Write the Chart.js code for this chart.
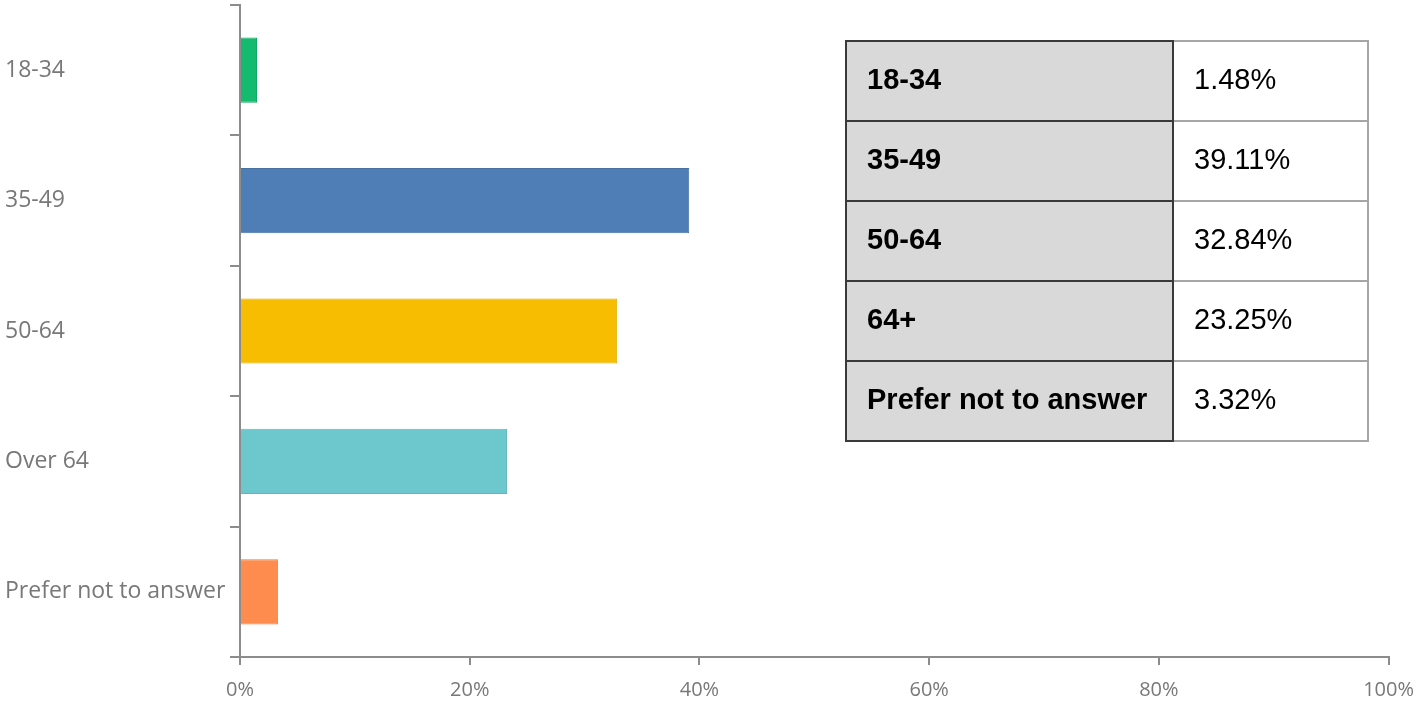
<!DOCTYPE html>
<html>
<head>
<meta charset="utf-8">
<script src="https://cdn.jsdelivr.net/npm/chart.js@4/dist/chart.umd.min.js"></script>
<style>
    html, body { margin: 0; padding: 0; background: #fff; }
    #wrap { position: relative; width: 1427px; height: 703px; }
    #summary {
        position: absolute; left: 845px; top: 40px;
        border-collapse: collapse;
        font-family: "Liberation Sans", Arial, sans-serif;
        font-size: 29px; color: #000;
    }
    #summary td { height: 74px; padding: 0 0 4px 20px; }
    #summary td.lbl {
        width: 305px; background: #d9d9d9; font-weight: bold;
        border: 2px solid #3a3a3a;
    }
    #summary td.val {
        width: 173px; background: #fff;
        border: 2px solid #a6a6a6; border-left: 2px solid #3a3a3a;
    }
</style>
</head>
<body>
<div id="wrap">
    <canvas id="ageChart"></canvas>
    <table id="summary"></table>
</div>
<script>
    const categories = ['18-34', '35-49', '50-64', 'Over 64', 'Prefer not to answer'];
    const tableLabels = ['18-34', '35-49', '50-64', '64+', 'Prefer not to answer'];
    const shares = [1.48, 39.11, 32.84, 23.25, 3.32];
    const barColors = ['#14bb6f', '#4f7db5', '#f7bd00', '#6cc8cc', '#ff8c4f'];
    const barBorders = ['#10a862', '#4770a3', '#e0ac00', '#62b6ba', '#e87f48'];
    const xTicks = [0, 20, 40, 60, 80, 100];

    const axisGrey = '#8c8c8c';
    const labelGrey = '#787878';

    // side table
    const table = document.getElementById('summary');
    tableLabels.forEach((lbl, i) => {
        const row = document.createElement('tr');
        row.innerHTML = `<td class="lbl">${lbl}</td><td class="val">${shares[i].toFixed(2)}%</td>`;
        table.appendChild(row);
    });

    const ctx = document.getElementById('ageChart').getContext('2d');
    new Chart(ctx, {
        type: 'bar',
        data: {
            labels: categories,
            datasets: [{
                data: shares,
                backgroundColor: barColors,
                borderColor: barBorders,
                borderWidth: 1,
                barPercentage: 0.5,
                categoryPercentage: 1
            }]
        },
        options: {
            indexAxis: 'y',
            responsive: true,
            maintainAspectRatio: false,
            animation: false,
            layout: { padding: { left: 5, top: 5, right: 37, bottom: 0 } },
            plugins: {
                legend: { display: false },
                tooltip: { enabled: false }
            },
            scales: {
                y: {
                    afterFit: (scale) => {
                        scale.width = 235;
                        scale.paddingTop = 0;
                        scale.paddingBottom = 0;
                    },
                    grid: {
                        offset: true,
                        drawOnChartArea: false,
                        color: axisGrey,
                        lineWidth: 2,
                        tickLength: 10
                    },
                    border: { color: axisGrey, width: 2 },
                    ticks: {
                        crossAlign: 'far',
                        color: labelGrey,
                        font: { family: 'Open Sans', size: 23 }
                    }
                },
                x: {
                    min: 0,
                    max: 100,
                    afterFit: (scale) => { scale.height = 46; },
                    afterBuildTicks: (scale) => {
                        scale.ticks = xTicks.map(v => ({ value: v }));
                    },
                    grid: {
                        drawOnChartArea: false,
                        color: axisGrey,
                        lineWidth: 2,
                        tickLength: 8
                    },
                    border: { color: axisGrey, width: 2 },
                    ticks: {
                        color: labelGrey,
                        padding: 13,
                        maxRotation: 0,
                        font: { family: 'Open Sans', size: 20 },
                        callback: (v) => v + '%'
                    }
                }
            }
        }
    });
</script>
</body>
</html>
